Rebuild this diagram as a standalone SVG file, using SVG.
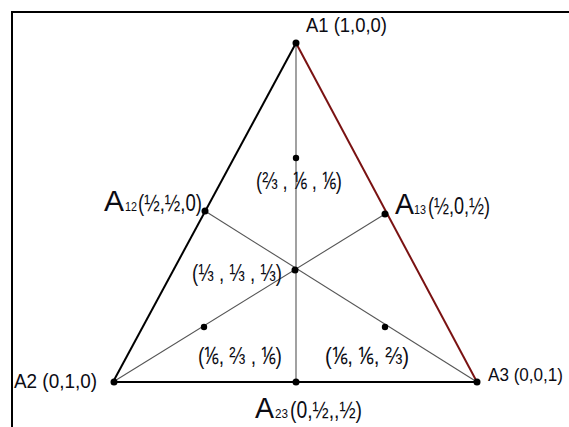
<svg xmlns="http://www.w3.org/2000/svg" width="569" height="427" viewBox="0 0 569 427">
<style>
text{font-family:"Liberation Sans",Arial,sans-serif;fill:#0c0c14}
.lbl{font-size:20px}
.big{font-size:29px}
.sub{font-size:13px}
.fr{font-size:24px}
.frl{font-size:24px}
.dot{fill:#000}
.edge{fill:none;stroke:#000;stroke-width:2}
.red{fill:none;stroke:#7a1212;stroke-width:2}
.med{fill:none;stroke:#555;stroke-width:1.1}
</style>
<rect x="0" y="0" width="569" height="427" fill="#fff"/>
<path d="M12,427 V12 H569" fill="none" stroke="#000" stroke-width="2"/>
<g id="connectors">
<line class="edge" x1="296" y1="43" x2="113" y2="382"/>
<line class="red" x1="296" y1="43" x2="477" y2="382"/>
<line class="edge" x1="113" y1="382" x2="477" y2="382" stroke-width="2.5"/>
<line class="med" x1="296" y1="43" x2="296" y2="382" stroke="#666"/>
<line class="med" x1="113" y1="382" x2="385" y2="214"/>
<line class="med" x1="477" y1="382" x2="205" y2="211"/>
</g>
<g id="A1"><circle class="dot" cx="296" cy="43" r="3.5"/><text class="lbl" x="306" y="32" textLength="81" lengthAdjust="spacingAndGlyphs">A1 (1,0,0)</text></g>
<g id="A2"><circle class="dot" cx="114" cy="382" r="3.5"/><text class="lbl" x="14" y="388" textLength="83" lengthAdjust="spacingAndGlyphs">A2 (0,1,0)</text></g>
<g id="A3"><circle class="dot" cx="477" cy="382" r="3.5"/><text x="488" y="381" font-size="18" textLength="75" lengthAdjust="spacingAndGlyphs">A3 (0,0,1)</text></g>
<g id="A12"><circle class="dot" cx="205" cy="211" r="3.5"/><text class="big" x="104" y="211" textLength="20" lengthAdjust="spacingAndGlyphs">A</text><text class="sub" x="125" y="211" textLength="12" lengthAdjust="spacingAndGlyphs">12</text><text class="fr" x="138" y="211" textLength="64" lengthAdjust="spacingAndGlyphs">(½,½,0)</text></g>
<g id="A13"><circle class="dot" cx="385" cy="214" r="3.5"/><text class="big" x="395" y="214" textLength="19" lengthAdjust="spacingAndGlyphs">A</text><text class="sub" x="414" y="214" textLength="12" lengthAdjust="spacingAndGlyphs">13</text><text class="fr" x="428" y="214" textLength="62" lengthAdjust="spacingAndGlyphs">(½,0,½)</text></g>
<g id="A23"><circle class="dot" cx="296" cy="382" r="3.5"/><text class="big" x="255" y="418" textLength="19" lengthAdjust="spacingAndGlyphs">A</text><text class="sub" x="275" y="418" textLength="13" lengthAdjust="spacingAndGlyphs">23</text><text class="fr" x="290" y="418" textLength="72" lengthAdjust="spacingAndGlyphs">(0,½,,½)</text></g>
<g id="P1"><circle class="dot" cx="296" cy="158" r="3.2"/><text class="frl" x="256" y="189" textLength="86" lengthAdjust="spacingAndGlyphs">(⅔ , ⅙ , ⅙)</text></g>
<g id="G"><circle class="dot" cx="295" cy="270" r="3.5"/><text class="frl" x="192" y="281" textLength="90" lengthAdjust="spacingAndGlyphs">(⅓ , ⅓ , ⅓)</text></g>
<g id="P2"><circle class="dot" cx="204" cy="327" r="3.2"/><text class="frl" x="198" y="364" textLength="84" lengthAdjust="spacingAndGlyphs">(⅙, ⅔ , ⅙)</text></g>
<g id="P3"><circle class="dot" cx="385" cy="327" r="3.2"/><text class="frl" x="325" y="364" textLength="84" lengthAdjust="spacingAndGlyphs">(⅙, ⅙, ⅔)</text></g>
</svg>
